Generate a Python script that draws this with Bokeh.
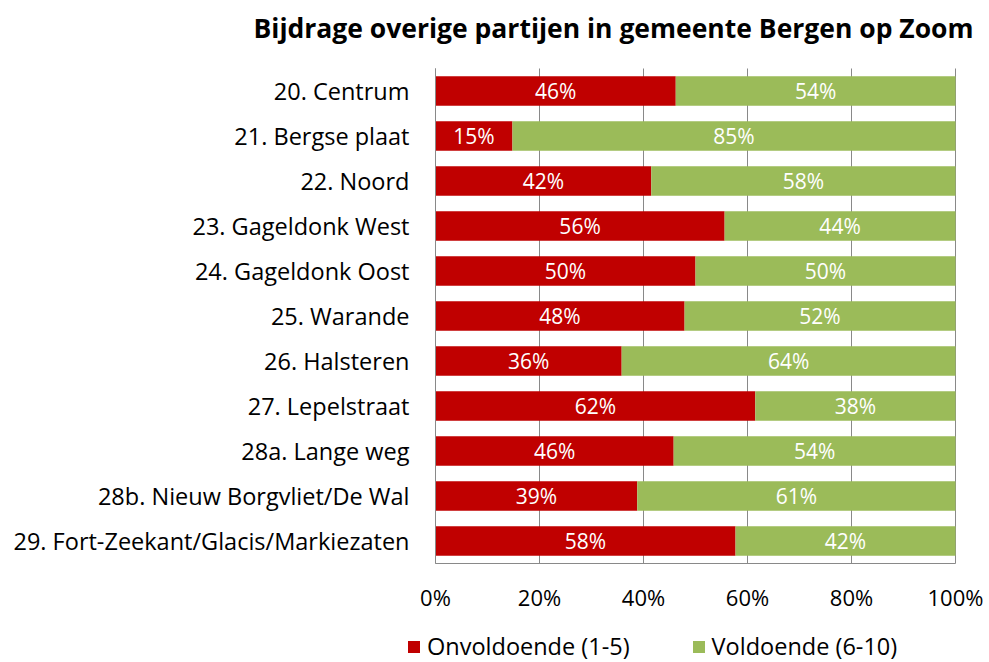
from bokeh.plotting import figure
from bokeh.models import (ColumnDataSource, Range1d, Legend, LegendItem, FixedTicker,
                          LinearAxis, Label)
from bokeh.core.properties import value
from bokeh.embed import file_html
from bokeh.resources import INLINE

title_text = "Bijdrage overige partijen in gemeente Bergen op Zoom"
categories = ["20. Centrum", "21. Bergse plaat", "22. Noord", "23. Gageldonk West",
              "24. Gageldonk Oost", "25. Warande", "26. Halsteren", "27. Lepelstraat",
              "28a. Lange weg", "28b. Nieuw Borgvliet/De Wal", "29. Fort-Zeekant/Glacis/Markiezaten"]
onvoldoende = [46.2, 14.8, 41.5, 55.6, 50.0, 47.9, 35.8, 61.5, 45.8, 38.8, 57.7]
voldoende = [100 - v for v in onvoldoende]
series_names = ["Onvoldoende (1-5)", "Voldoende (6-10)"]
tick_values = [0, 20, 40, 60, 80, 100]
tick_labels = {0: "0%", 20: "20%", 40: "40%", 60: "60%", 80: "80%", 100: "100%"}

RED = "#C00000"
GREEN = "#9BBB59"
GRID = "#898989"
FONT = "Open Sans"
FS_AXIS = "23.5px"
FS_TICK = "22px"
FS_BAR = "21px"
FS_LEG = "23.5px"

# ---- layout geometry (pixels) ----
W, H = 989, 662
PLOT_L, PLOT_R, PLOT_T, PLOT_B = 435, 955, 68, 563
n = len(categories)
px_x = (PLOT_R - PLOT_L) / 100.0            # pixels per percent
px_y = (PLOT_B - PLOT_T) / n                # pixels per category
x_start = -PLOT_L / px_x
x_end = 100 + (W - PLOT_R) / px_x
y_top = (n - 0.5) + PLOT_T / px_y
y_bot = y_top - H / px_y

ypos = [n - 1 - i for i in range(n)]
src = ColumnDataSource(dict(y=ypos, onv=onvoldoende, vol=voldoende,
                            onv_mid=[v / 2 for v in onvoldoende],
                            vol_mid=[o + v / 2 for o, v in zip(onvoldoende, voldoende)],
                            onv_lbl=[f"{round(v)}%" for v in onvoldoende],
                            vol_lbl=[f"{round(v)}%" for v in voldoende]))

p = figure(width=W, height=H, output_backend="svg", toolbar_location=None,
           x_range=Range1d(x_start, x_end), y_range=Range1d(y_bot, y_top),
           x_axis_location=None, y_axis_location=None, min_border=0)
p.min_border_left = p.min_border_right = p.min_border_top = p.min_border_bottom = 0
p.outline_line_color = None
p.grid.visible = False

# vertical gridlines (stop at the category band)
p.segment(x0=tick_values, x1=tick_values, y0=[-0.5] * len(tick_values),
          y1=[n - 0.5] * len(tick_values), line_color=GRID, line_width=1)

r = p.hbar_stack(["onv", "vol"], y="y", height=0.66, color=[RED, GREEN], source=src,
                 line_color=None)

p.text(x="onv_mid", y="y", text="onv_lbl", source=src, text_color="white",
       text_font=value(FONT), text_font_size=FS_BAR, text_align="center", text_baseline="middle")
p.text(x="vol_mid", y="y", text="vol_lbl", source=src, text_color="white",
       text_font=value(FONT), text_font_size=FS_BAR, text_align="center", text_baseline="middle")

xaxis = LinearAxis(fixed_location=-0.5, bounds=(0, 100), ticker=FixedTicker(ticks=tick_values),
                   major_label_overrides=tick_labels, axis_line_color=GRID,
                   major_tick_line_color=None, minor_tick_line_color=None,
                   major_label_standoff=12, major_label_text_font=FONT,
                   major_label_text_font_size=FS_TICK, major_label_text_color="black")
p.add_layout(xaxis, "below")

yaxis = LinearAxis(fixed_location=0, bounds=(-0.5, n - 0.5), ticker=FixedTicker(ticks=ypos),
                   major_label_overrides={yy: c for yy, c in zip(ypos, categories)},
                   axis_line_color=GRID, major_tick_line_color=None, minor_tick_line_color=None,
                   major_label_standoff=20, major_label_text_font=FONT,
                   major_label_text_font_size=FS_AXIS, major_label_text_color="black")
p.add_layout(yaxis, "left")

title = Label(x=(253 - PLOT_L) / px_x, y=y_top - 27.5 / px_y, text=title_text,
              text_font=FONT, text_font_size="26.5px", text_font_style="bold",
              text_color="black", text_align="left", text_baseline="alphabetic")
p.add_layout(title)

legend = Legend(items=[LegendItem(label=series_names[0], renderers=[r[0]]),
                       LegendItem(label=series_names[1], renderers=[r[1]])],
                orientation="horizontal", location=(406, 0),
                label_text_font=FONT, label_text_font_size=FS_LEG, label_text_color="black",
                glyph_width=15, glyph_height=15, spacing=61,
                padding=0, margin=0, border_line_color=None, background_fill_alpha=0,
                label_standoff=6)
p.add_layout(legend, "center")

open("out.html", "w").write(file_html(p, INLINE))
